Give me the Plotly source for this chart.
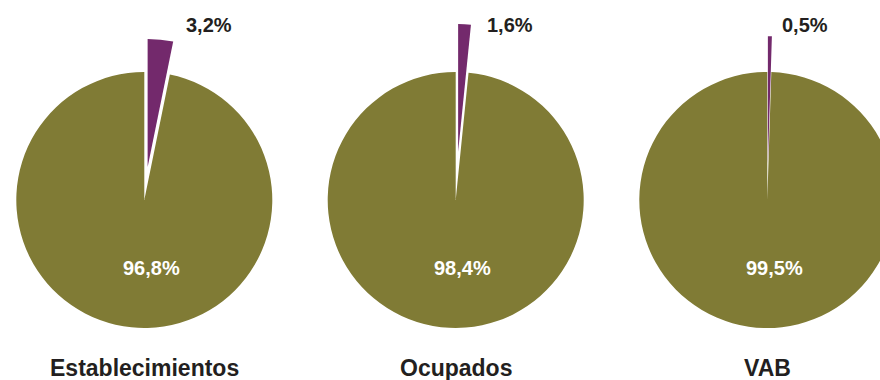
import math
import plotly.graph_objects as go

# Data
categories = ["Establecimientos", "Ocupados", "VAB"]
small_share = [3.2, 1.6, 0.5]      # purple slice (%)
large_share = [96.8, 98.4, 99.5]   # olive slice (%)

# Styling / layout constants
OLIVE = "#807B35"
PURPLE = "#73296C"
TEXT = "#231F20"
W, H = 900, 380
R = 128                              # pie radius (px)
CX = [144.3, 455.7, 767.3]           # pie centres (px)
CY = 200
PULL = [0.26, 0.375, 0.28]           # offset of the purple slice, fraction of R
OUT_LABEL_DX = [65, 54, 38]          # outside label x offset from centre (px)
OUT_LABEL_Y = 24.5
IN_LABEL_DX = 7
IN_LABEL_Y = 268
TITLE_Y = 368
FONT = "Liberation Sans, Arial, sans-serif"


def fmt(v):
    return f"{v:.1f}".replace(".", ",") + "%"


def dom(cx, cy):
    return dict(x=[(cx - R) / W, (cx + R) / W],
                y=[1 - (cy + R) / H, 1 - (cy - R) / H])


fig = go.Figure()
annotations = []
for i, cat in enumerate(categories):
    vals = [small_share[i], large_share[i]]
    # base pie: olive slice, empty gap where the purple slice was
    fig.add_trace(go.Pie(
        values=vals, sort=False, direction="clockwise", rotation=0,
        marker=dict(colors=["rgba(0,0,0,0)", OLIVE], line=dict(width=0)),
        textinfo="none", hoverinfo="skip", showlegend=False,
        domain=dom(CX[i], CY)))
    # exploded purple slice, shifted along its mid-angle
    mid = math.radians(360 * small_share[i] / 100 / 2)
    d = PULL[i] * R
    pcx = CX[i] + d * math.sin(mid)
    pcy = CY - d * math.cos(mid)
    fig.add_trace(go.Pie(
        values=vals, sort=False, direction="clockwise", rotation=0,
        marker=dict(colors=[PURPLE, "rgba(0,0,0,0)"], line=dict(width=0)),
        textinfo="none", hoverinfo="skip", showlegend=False,
        domain=dom(pcx, pcy)))

    annotations.append(dict(
        x=(CX[i] + OUT_LABEL_DX[i]) / W, y=1 - OUT_LABEL_Y / H,
        xref="paper", yref="paper", text=fmt(small_share[i]), showarrow=False,
        font=dict(family=FONT, size=20, color=TEXT, weight="bold"),
        xanchor="center", yanchor="middle"))
    annotations.append(dict(
        x=(CX[i] + IN_LABEL_DX) / W, y=1 - IN_LABEL_Y / H,
        xref="paper", yref="paper", text=fmt(large_share[i]), showarrow=False,
        font=dict(family=FONT, size=20, color="white", weight="bold"),
        xanchor="center", yanchor="middle"))
    annotations.append(dict(
        x=CX[i] / W, y=1 - TITLE_Y / H,
        xref="paper", yref="paper", text=cat, showarrow=False,
        font=dict(family=FONT, size=23, color=TEXT, weight="bold"),
        xanchor="center", yanchor="middle"))

fig.update_layout(
    width=W, height=H,
    margin=dict(l=0, r=0, t=0, b=0),
    paper_bgcolor="white", plot_bgcolor="white",
    annotations=annotations)

fig.write_html(
    "out.html",
    post_script=("document.body.style.margin='0';"
                 "document.body.style.overflow='hidden';"
                 "document.documentElement.style.overflow='hidden';"))
